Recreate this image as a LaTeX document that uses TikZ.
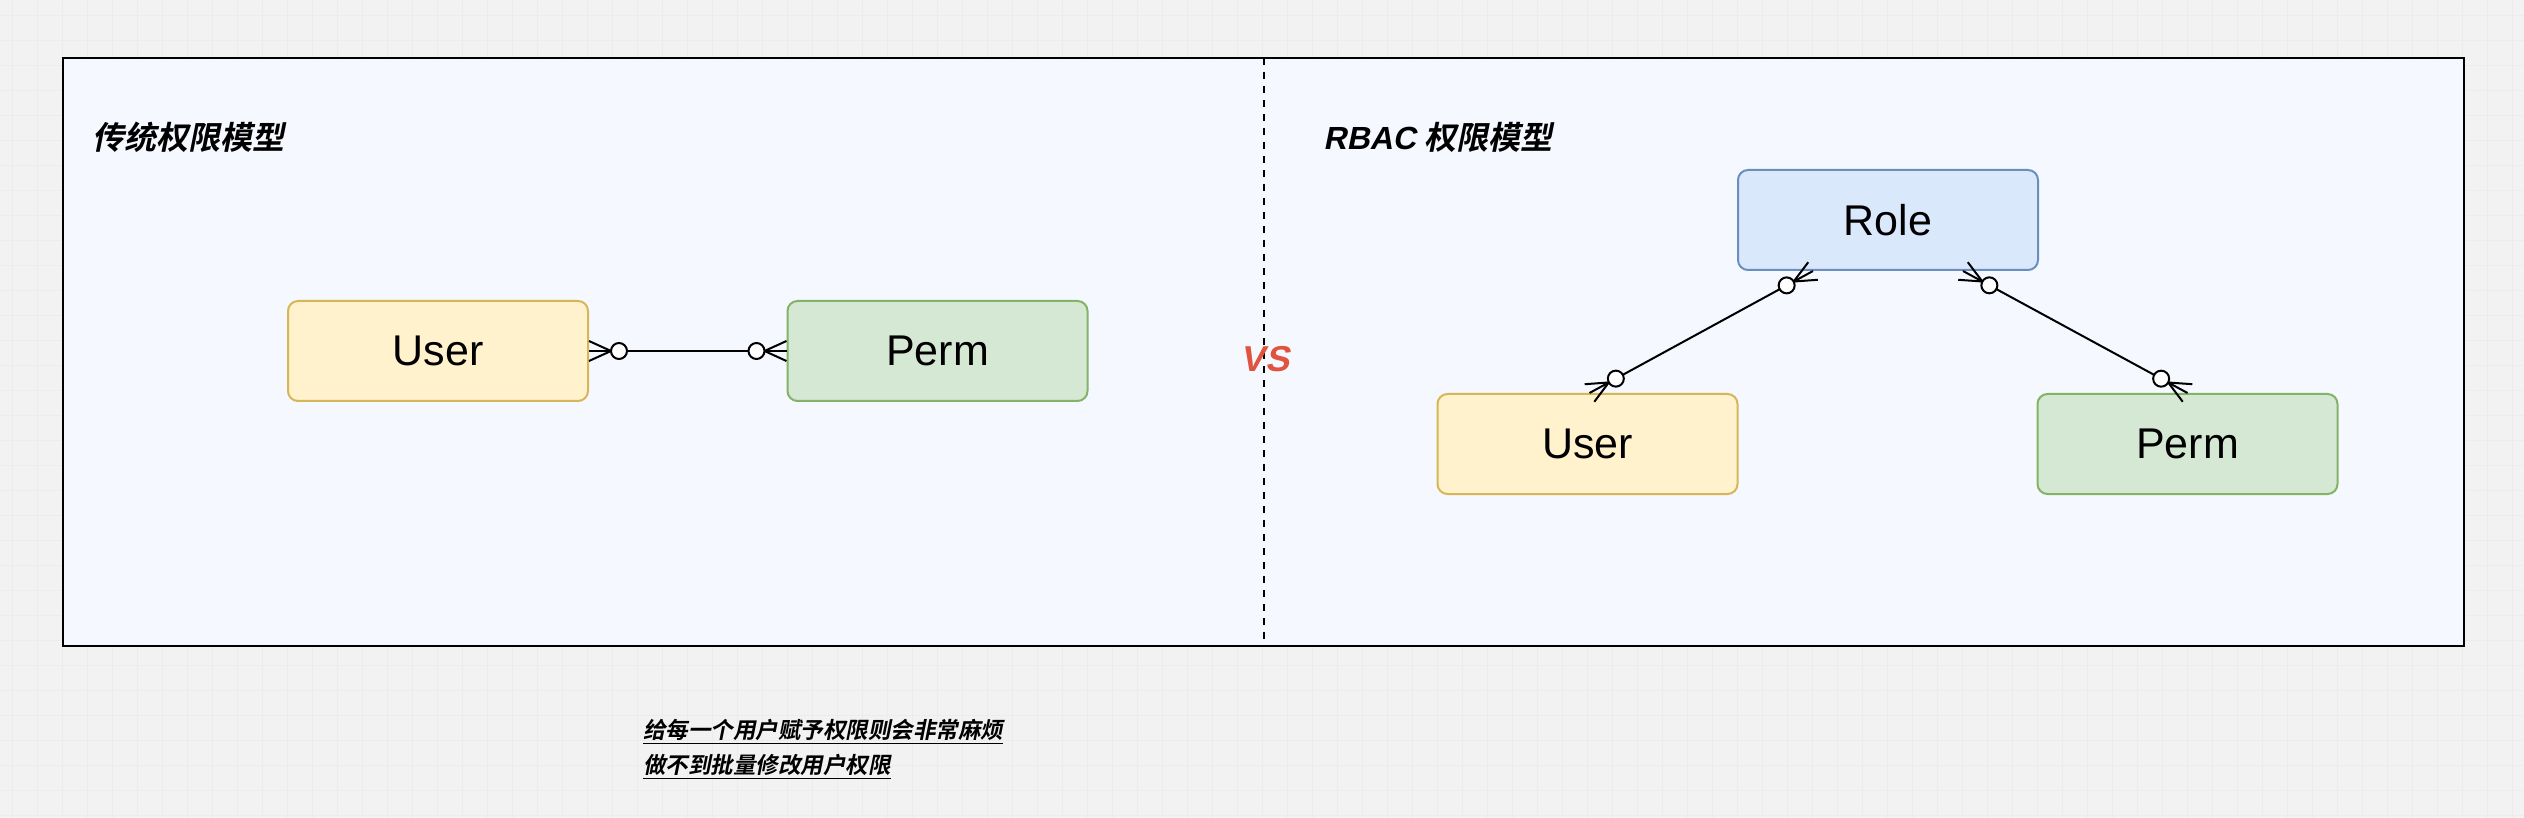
\documentclass[tikz,border=0pt]{standalone}
\usepackage{fontspec}
\setmainfont{Liberation Sans}
\newfontfamily\cjkbi[FakeSlant=0.2]{Noto Sans CJK SC Bold}
\newfontfamily\latbi[FakeSlant=0.2]{Liberation Sans Bold}
\usetikzlibrary{calc}
\definecolor{pagebg}{HTML}{F2F2F2}
\definecolor{gridc}{HTML}{ECECEC}
\definecolor{framebg}{HTML}{F5F8FE}
\definecolor{yfill}{HTML}{FFF2CC}
\definecolor{ydraw}{HTML}{D6B656}
\definecolor{gfill}{HTML}{D5E8D4}
\definecolor{gdraw}{HTML}{82B366}
\definecolor{bfill}{HTML}{DAE8FC}
\definecolor{bdraw}{HTML}{6C8EBF}
\definecolor{vsred}{HTML}{E0533F}
\tikzset{
  entity/.style={draw, line width=1pt, rounded corners=5pt, minimum width=150pt, minimum height=50pt, inner sep=0pt, font=\fontsize{21.5pt}{24pt}\selectfont},
  ybox/.style={entity, fill=yfill, draw=ydraw},
  gbox/.style={entity, fill=gfill, draw=gdraw},
  bbox/.style={entity, fill=bfill, draw=bdraw},
  erline/.style={line width=1pt, black},
  title/.style={anchor=west, inner sep=0pt, font=\fontsize{16pt}{18pt}\selectfont}
}
\newcommand\erend[2]{%
  \draw[erline] ($(#1)!11pt!(#2)$) -- (#1);
  \draw[erline] ($(#1)!11pt!(#2)$) -- ($(#1)!5pt!90:(#2)$);
  \draw[erline] ($(#1)!11pt!(#2)$) -- ($(#1)!5pt!-90:(#2)$);
  \draw[erline, fill=white] ($(#1)!15pt!(#2)$) circle (4pt);
}
\newcommand\erlink[2]{%
  \draw[erline] ($(#1)!19pt!(#2)$) -- ($(#2)!19pt!(#1)$);
  \erend{#1}{#2}
  \erend{#2}{#1}
}
\begin{document}
\begin{tikzpicture}[x=0.5pt,y=-0.5pt]
  \fill[pagebg] (0,0) rectangle (2524,818);
  \useasboundingbox (0,0) rectangle (2524,818);
  \foreach \g in {12,37,...,2524} {\draw[gridc, line width=0.4pt] (\g,0) -- (\g,818);}
  \foreach \g in {15,40,...,818} {\draw[gridc, line width=0.4pt] (0,\g) -- (2524,\g);}
  % frame
  \draw[line width=1pt, fill=framebg] (63,58) rectangle (2464,646);
  \coordinate (divtop) at (1264,58);
  \coordinate (divbot) at (1264,646);
  \draw[line width=1pt, dash pattern=on 3.5pt off 3.5pt] (divtop) -- (divbot);
  % titles
  \node[title] (t1) at (92,137) {\cjkbi 传统权限模型};
  \node[title] (t2) at (1323,137) {\latbi RBAC \cjkbi 权限模型};
  \node[inner sep=0pt, text=vsred, font=\fontsize{18pt}{20pt}\selectfont] (vs) at (1265,359) {\latbi VS};
  % left diagram
  \node[ybox] (uL) at (438,351) {User};
  \node[gbox] (pL) at (937.5,351) {Perm};
  \erlink{uL.east}{pL.west}
  % right diagram
  \node[bbox] (role) at (1888,220) {Role};
  \node[ybox] (uR) at (1587.5,444) {User};
  \node[gbox] (pR) at (2187.5,444) {Perm};
  \coordinate (r1) at ($(role.south)+(-75,0)$);
  \coordinate (r2) at ($(role.south)+(75,0)$);
  \coordinate (u1) at ($(uR.north)+(2,0)$);
  \coordinate (p1) at (pR.north);
  \erlink{r1}{u1}
  \erlink{r2}{p1}
  % note
  \node[anchor=west, align=left, inner sep=0pt, font=\fontsize{11.25pt}{17.5pt}\selectfont] (note) at (643,749.5)
    {\underline{\cjkbi 给每一个用户赋予权限则会非常麻烦}\\\underline{\cjkbi 做不到批量修改用户权限}};
\end{tikzpicture}
\end{document}
